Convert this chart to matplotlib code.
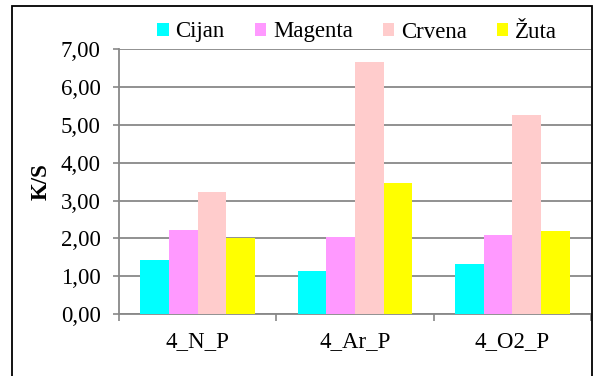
import matplotlib.pyplot as plt
import numpy as np
from matplotlib.patches import Rectangle

categories = ["4_N_P", "4_Ar_P", "4_O2_P"]
series_names = ["Cijan", "Magenta", "Crvena", "Žuta"]
cijan = [1.44, 1.14, 1.32]
magenta = [2.21, 2.04, 2.10]
crvena = [3.23, 6.66, 5.27]
zuta = [2.02, 3.46, 2.19]
colors = ["#00FFFF", "#FF99FF", "#FFCCCC", "#FFFF00"]
y_ticks = [0, 1, 2, 3, 4, 5, 6, 7]

plt.rcParams["font.family"] = ["Liberation Serif", "DejaVu Serif"]

W, H = 593, 376
fig = plt.figure(figsize=(W / 100, H / 100), dpi=100)
left, right, top, bottom = 119, 591, 49.3, 314
ax = fig.add_axes([left / W, 1 - bottom / H, (right - left) / W, (bottom - top) / H])

x = np.arange(len(categories))
width = 0.1825
for i, (vals, name) in enumerate(zip([cijan, magenta, crvena, zuta], series_names)):
    ax.bar(x + (i - 1.5) * width, vals, width, color=colors[i], label=name, zorder=3)

ax.set_xlim(-0.5, len(categories) - 0.5)
ax.set_ylim(0, 7)
ax.set_yticks(y_ticks)
ax.set_yticklabels([f"{v:.2f}".replace(".", ",") for v in y_ticks], fontsize=16.5)
ax.set_xticks(x)
ax.set_xticklabels(categories, fontsize=16.5)
ax.tick_params(axis="x", length=0, pad=12.5)
ax.set_xticks(np.arange(len(categories) + 1) - 0.5, minor=True)
ax.tick_params(axis="x", which="minor", length=5, color="#888888", width=1.2)
ax.tick_params(axis="y", length=4.3, color="#888888", width=1.2, pad=9)
ax.grid(axis="y", color="#888888", linewidth=1.3, zorder=0)
for s in ["top", "right"]:
    ax.spines[s].set_visible(False)
for s in ["left", "bottom"]:
    ax.spines[s].set_color("#888888")
    ax.spines[s].set_linewidth(1.3)
ax.set_ylabel("K/S", fontsize=16.5, fontweight="bold")
ax.yaxis.set_label_coords((52 - left) / (right - left), 0.5)

fig.legend(loc="center", bbox_to_anchor=(357 / W, 1 - 32 / H), ncol=4,
           frameon=False, fontsize=16.5, handlelength=0.5, handleheight=0.5,
           handletextpad=0.3, columnspacing=1.3)

fig.patches.append(Rectangle((12 / W, -0.05), (592 - 12) / W, 1.05 - 6 / H,
                             transform=fig.transFigure, fill=False,
                             edgecolor="black", linewidth=1.3))

fig.savefig("out.png", dpi=100)
